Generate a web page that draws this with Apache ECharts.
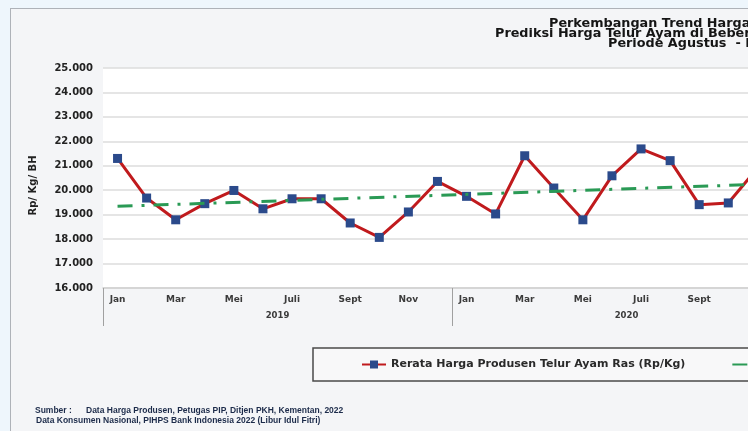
<!DOCTYPE html>
<html>
<head>
<meta charset="utf-8">
<script src="https://cdn.jsdelivr.net/npm/echarts@6/dist/echarts.min.js"></script>
<style>
  html, body { margin: 0; padding: 0; width: 748px; height: 431px; overflow: hidden; background: #eef6fc; }
  #chart {
    position: absolute; left: 10px; top: 8px; width: 1500px; height: 430px;
    background: #f4f5f7; border-top: 1px solid #aeb2b8; border-left: 1px solid #aeb2b8;
  }
</style>
</head>
<body>
<div id="chart"></div>
<script>
// bulan & tahun (sumbu x dua tingkat)
const months = ["Jan", "Feb", "Mar", "Apr", "Mei", "Juni", "Juli", "Agust", "Sept", "Okt", "Nov", "Des"];
const years = ["2019", "2020"];

// Rp/Kg, Jan 2019 - Des 2020
const hargaProdusen = [
  21300, 19680, 18790, 19450, 19990, 19240, 19650, 19650, 18660, 18070, 19110, 20360,
  19750, 19030, 21410, 20090, 18790, 20590, 21690, 21210, 19410, 19480, 20900, null
];
// garis tren linear: titik awal & akhir saja
const trendLinear = [
  19340, null, null, null, null, null, null, null, null, null, null, null,
  null, null, null, null, null, null, null, null, null, null, 20240, null
];

const seriesNames = [
  "Rerata Harga Produsen Telur Ayam Ras (Rp/Kg)",
  "Linear (Rerata Harga Produsen Telur Ayam Ras (Rp/Kg))"
];
const titleLines = [
  "Perkembangan Trend Harga Telur Ayam Ras",
  "Prediksi Harga Telur Ayam di Beberapa Daerah",
  "Periode Agustus  - Desember 2022"
];
const sumberLines = [
  "Sumber :      Data Harga Produsen, Petugas PIP, Ditjen PKH, Kementan, 2022",
  "Data Konsumen Nasional, PIHPS Bank Indonesia 2022 (Libur Idul Fitri)"
];

const categories = [];
years.forEach(function (y) {
  months.forEach(function (m) { categories.push(m + " " + y); });
});

const FONT = "DejaVu Sans";
const chart = echarts.init(document.getElementById("chart"));

const titleStyle = { fontFamily: FONT, fontWeight: "bold", fontSize: 12.8, color: "#151515" };

const option = {
  animation: false,
  title: [
    { text: titleLines[0], left: 538, top: 7.8, padding: 0, textStyle: titleStyle },
    { text: titleLines[1], left: 484, top: 18.6, padding: 0, textStyle: titleStyle },
    { text: titleLines[2], left: 597, top: 27.9, padding: 0, textStyle: titleStyle }
  ],
  legend: {
    left: 302,
    top: 339,
    width: 1100,
    padding: [11, 48, 11, 48],
    itemGap: 46,
    itemWidth: 24,
    itemHeight: 10,
    borderColor: "#4a4a4a",
    borderWidth: 1.5,
    backgroundColor: "#f8f8f9",
    data: [
      { name: seriesNames[0] },
      { name: seriesNames[1], itemStyle: { opacity: 0 } }
    ],
    textStyle: { fontFamily: FONT, fontWeight: "bold", fontSize: 11, color: "#2a2a2a" }
  },
  grid: {
    left: 92, top: 59, width: 698, height: 220,
    show: true, backgroundColor: "#ffffff", borderWidth: 0
  },
  xAxis: [
    {
      type: "category",
      data: categories,
      boundaryGap: true,
      position: "bottom",
      axisLine: { lineStyle: { color: "#cfcfcf", width: 1.5 } },
      axisTick: { show: false },
      axisLabel: {
        interval: 1,
        margin: 7,
        fontFamily: FONT,
        fontWeight: "bold",
        fontSize: 9,
        color: "#3b3b3b",
        formatter: function (v) { return v.split(" ")[0]; }
      }
    },
    {
      type: "category",
      data: years,
      boundaryGap: true,
      position: "bottom",
      axisLine: { show: false },
      axisTick: { show: true, interval: 0, length: 38, lineStyle: { color: "#a0a0a0", width: 1 } },
      axisLabel: { margin: 23, fontFamily: FONT, fontWeight: "bold", fontSize: 8.5, color: "#3b3b3b" },
      splitLine: { show: false }
    }
  ],
  yAxis: {
    type: "value",
    min: 16000,
    max: 25000,
    interval: 1000,
    axisLine: { show: false },
    axisTick: { show: false },
    splitLine: { lineStyle: { color: "#dcdcdc", width: 1.5 } },
    axisLabel: {
      margin: 10,
      fontFamily: FONT,
      fontWeight: "bold",
      fontSize: 10,
      color: "#222222",
      formatter: function (v) { return v / 1000 + ".000"; }
    }
  },
  series: [
    {
      name: seriesNames[0],
      type: "line",
      xAxisIndex: 0,
      data: hargaProdusen,
      symbol: "rect",
      symbolSize: 9,
      lineStyle: { color: "#c01a1d", width: 3 },
      itemStyle: { color: "#2b4a8b" },
      z: 3
    },
    {
      name: seriesNames[1],
      type: "line",
      xAxisIndex: 0,
      data: trendLinear,
      connectNulls: true,
      symbol: "none",
      lineStyle: { color: "#2a9a55", width: 3, type: [15, 9, 3, 9] },
      itemStyle: { color: "#2a9a55" },
      z: 4
    }
  ],
  graphic: [
    {
      type: "text", x: 22, y: 176.5, rotation: Math.PI / 2,
      style: { text: "Rp/ Kg/ BH", font: "bold 10px 'DejaVu Sans'", fill: "#222222", align: "center", verticalAlign: "middle" }
    },
    {
      type: "text", x: 24, y: 402,
      style: { text: sumberLines[0], font: "bold 8.5px 'Liberation Sans'", fill: "#1c2b4a", align: "left", verticalAlign: "middle" }
    },
    {
      type: "text", x: 25, y: 412,
      style: { text: sumberLines[1], font: "bold 8.5px 'Liberation Sans'", fill: "#1c2b4a", align: "left", verticalAlign: "middle" }
    }
  ]
};

chart.setOption(option);
</script>
</body>
</html>
